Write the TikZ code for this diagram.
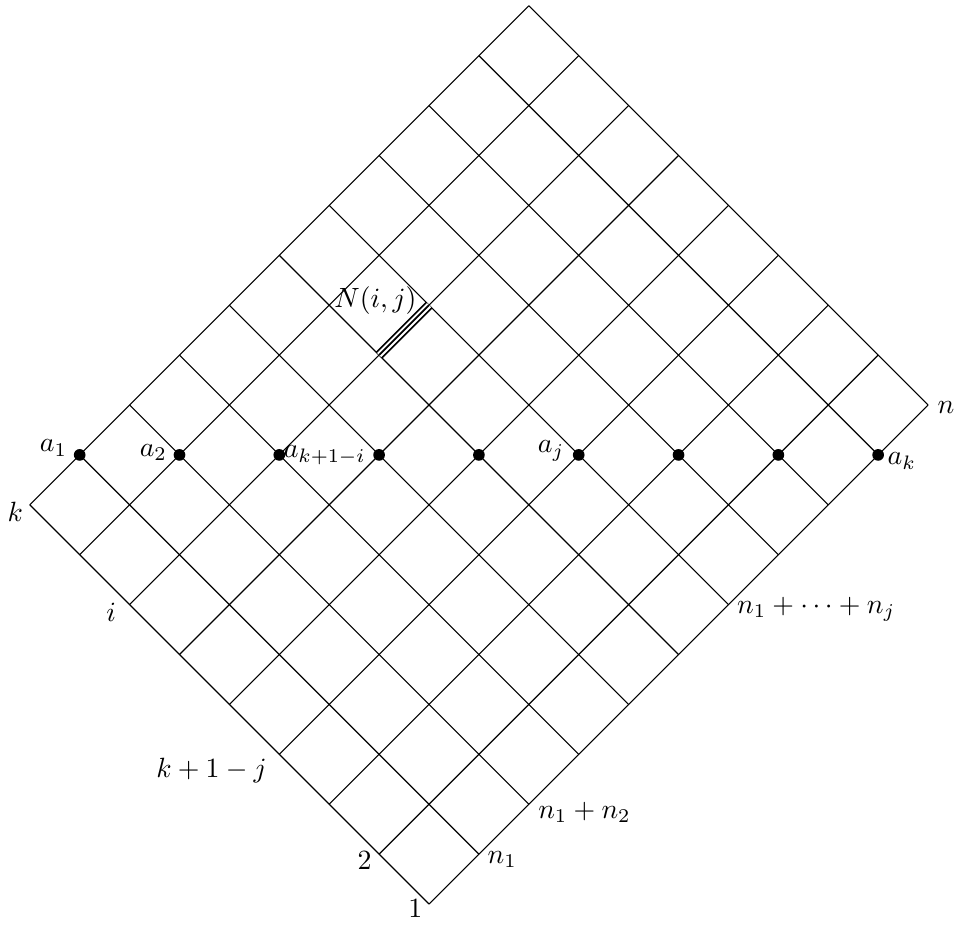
\documentclass[tikz,border=0pt]{standalone}
\usepackage{amsmath,amssymb}

\begin{document}
\begin{tikzpicture}[
x={(0.63cm,0.63cm)}, y={(-0.63cm,0.63cm)},
gridline/.style={line width=0.4pt},
dot/.style={circle,fill=black,inner sep=0pt,minimum size=4.2pt},
lbl/.style={inner sep=0pt},
triple/.style={line width=0.65pt,double distance=2.1pt}
]

\useasboundingbox (-5.416cm,-0.253cm) rectangle (6.653cm,11.413cm);

% grid
\foreach \u in {0,...,10}
  \draw[gridline] (\u,0) -- (\u,8);
\foreach \v in {0,...,8}
  \draw[gridline] (0,\v) -- (10,\v);

% the edge N(i,j)
\coordinate (N0) at (5,6);
\coordinate (N1) at (6,6);
\draw[triple] (N0) -- (N1);
\draw[line width=0.65pt] (N0) -- (N1);
\node[lbl, anchor=base east, xshift=-4.3pt, yshift=-0.7pt](Nij) at (N1) {$N(i,j)$};

% the points a_1,...,a_k
\foreach \i in {1,...,9}
  \node[dot] (a\i) at (\i,9-\i) {};

\node[lbl, anchor=base east, xshift=-4.3pt, yshift=1.1pt](la1) at (a1.center) {$a_1$};
\node[lbl, anchor=base east, xshift=-4.3pt, yshift=-0.4pt](la2) at (a2.center) {$a_2$};
\node[lbl, anchor=base west, xshift=1.4pt, yshift=-1.1pt](la3) at (a3.center) {$a_{k+1-i}$};
\node[lbl, anchor=base east, xshift=-5pt, yshift=0.7pt](la6) at (a6.center) {$a_j$};
\node[lbl, anchor=base west, xshift=3.2pt, yshift=-3.6pt](la9) at (a9.center) {$a_k$};

% left side
\node[lbl, anchor=base east, xshift=-2.2pt, yshift=-6.1pt](lk) at (0,8) {$k$};
\node[lbl, anchor=base east, xshift=-4.7pt, yshift=-6.1pt](li) at (0,6) {$i$};
\node[lbl, anchor=base east, xshift=-4.3pt, yshift=-8.3pt](lj) at (0,3) {$k+1-j$};
\node[lbl, anchor=base east, xshift=-2.5pt, yshift=-5.4pt](l2) at (0,1) {$2$};
\node[lbl, anchor=base east, xshift=-2.2pt, yshift=-5pt](l1) at (0,0) {$1$};

% right side
\node[lbl, anchor=base west, xshift=2.9pt, yshift=-3.2pt](rn1) at (1,0) {$n_1$};
\node[lbl, anchor=base west, xshift=3.2pt, yshift=-5pt](rn2) at (2,0) {$n_1+n_2$};
\node[lbl, anchor=base west, xshift=2.9pt, yshift=-3.2pt](rnj) at (6,0) {$n_1+\cdots+n_j$};
\node[lbl, anchor=base west, xshift=3.2pt, yshift=-3.2pt](rn) at (10,0) {$n$};
\end{tikzpicture}
\end{document}
